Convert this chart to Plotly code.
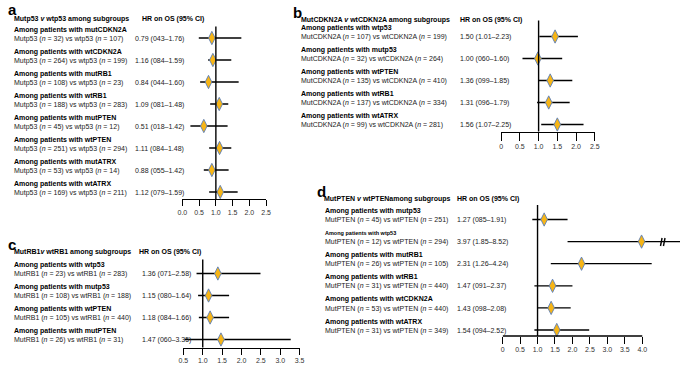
import plotly.graph_objects as go

# ---------------- data ----------------
# Panel a: Mutp53 v wtp53
a_groups = ["mutCDKN2A", "wtCDKN2A", "mutRB1", "wtRB1", "mutPTEN", "wtPTEN", "mutATRX", "wtATRX"]
a_n_mut = [32, 264, 108, 188, 45, 251, 53, 169]
a_n_wt = [107, 199, 23, 283, 12, 294, 14, 211]
a_hr_text = ["0.79 (043–1.76)", "1.16 (084–1.59)", "0.84 (044–1.60)", "1.09 (081–1.48)",
             "0.51 (018–1.42)", "1.11 (084–1.48)", "0.88 (055–1.42)", "1.12 (079–1.59)"]
a_hr = [0.88, 0.91, 0.78, 1.10, 0.64, 1.11, 0.88, 1.13]
a_lo = [0.49, 0.77, 0.53, 0.83, 0.24, 0.80, 0.64, 0.80]
a_hi = [1.76, 1.46, 1.68, 1.37, 1.35, 1.46, 1.38, 1.65]
a_ticks = [0, 0.5, 1.0, 1.5, 2.0, 2.5]
a_ticklabels = ["0.0", "0.5", "1.0", "1.5", "2.0", "2.5"]

# Panel b: MutCDKN2A v wtCDKN2A
b_groups = ["wtp53", "mutp53", "wtPTEN", "wtRB1", "wtATRX"]
b_n_mut = [107, 32, 135, 137, 99]
b_n_wt = [199, 264, 410, 334, 281]
b_hr_text = ["1.50 (1.01–2.23)", "1.00 (060–1.60)", "1.36 (099–1.85)", "1.31 (096–1.79)", "1.56 (1.07–2.25)"]
b_hr = [1.44, 0.98, 1.31, 1.27, 1.50]
b_lo = [1.02, 0.57, 1.01, 0.96, 1.07]
b_hi = [2.05, 1.63, 1.90, 1.83, 2.20]
b_ticks = [0, 0.5, 1.0, 1.5, 2.0, 2.5]
b_ticklabels = ["0", "0.5", "1.0", "1.5", "2.0", "2.5"]

# Panel c: MutRB1 v wtRB1
c_groups = ["wtp53", "mutp53", "wtPTEN", "mutPTEN"]
c_n_mut = [23, 108, 105, 26]
c_n_wt = [283, 188, 440, 31]
c_hr_text = ["1.36 (071–2.58)", "1.15 (080–1.64)", "1.18 (084–1.66)", "1.47 (060–3.35)"]
c_hr = [1.39, 1.15, 1.19, 1.47]
c_lo = [0.84, 0.88, 0.90, 0.53]
c_hi = [2.49, 1.68, 1.68, 3.27]
c_ticks = [0.5, 1.0, 1.5, 2.0, 2.5, 3.0, 3.5]
c_ticklabels = ["0.5", "1.0", "1.5", "2.0", "2.5", "3.0", "3.5"]

# Panel d: MutPTEN v wtPTEN
d_groups = ["mutp53", "wtp53", "mutRB1", "wtRB1", "wtCDKN2A", "wtATRX"]
d_n_mut = [45, 12, 26, 31, 53, 31]
d_n_wt = [251, 294, 105, 440, 440, 349]
d_hr_text = ["1.27 (085–1.91)", "3.97 (1.85–8.52)", "2.31 (1.26–4.24)", "1.47 (091–2.37)",
             "1.43 (098–2.08)", "1.54 (094–2.52)"]
d_hr = [1.19, 3.98, 2.26, 1.43, 1.39, 1.55]
d_lo = [0.85, 1.86, 1.38, 0.91, 1.01, 0.91]
d_hi = [1.86, 8.52, 4.27, 2.00, 1.95, 2.48]
d_ticks = [0, 0.5, 1.0, 1.5, 2.0, 2.5, 3.0, 3.5, 4.0]
d_ticklabels = ["0", "0.5", "1.0", "1.5", "2.0", "2.5", "3.0", "3.5", "4.0"]

# ---------------- layout helpers ----------------
W, H = 685, 367
FONT = "Liberation Sans, Arial, Helvetica, sans-serif"
FILL = "#F7B516"
EDGE = "#5B7FBA"


def px(x):
    return x / W


def py(y):
    return 1 - y / H


panels = [
    dict(letter="a", letter_xy=(1, 10), title="Mutp53 <i>v</i> wtp53 among subgroups", title_xy=(7, 19),
         hrhead_x=136.5, hr_x=130, text_x=7, mut="Mutp53", wt="wtp53",
         groups=a_groups, n_mut=a_n_mut, n_wt=a_n_wt, hr_text=a_hr_text, hr=a_hr, lo=a_lo, hi=a_hi,
         ticks=a_ticks, ticklabels=a_ticklabels, ax_px=(180, 265), ax_ext=265, rng=(0, 2.5),
         row0=38, step=22.0, ytop=26.5, ybot=199, ticklen=6, small=[]),
    dict(letter="b", letter_xy=(290, 12), title="MutCDKN2A <i>v</i> wtCDKN2A among subgroups", title_xy=(298, 20),
         hrhead_x=460, hr_x=460, text_x=298, mut="MutCDKN2A", wt="wtCDKN2A",
         groups=b_groups, n_mut=b_n_mut, n_wt=b_n_wt, hr_text=b_hr_text, hr=b_hr, lo=b_lo, hi=b_hi,
         ticks=b_ticks, ticklabels=b_ticklabels, ax_px=(503.5, 598.5), ax_ext=598.5, rng=(0, 2.5),
         row0=36.5, step=22.0, ytop=20.5, ybot=131.5, ticklen=8, small=[]),
    dict(letter="c", letter_xy=(1, 244), title="MutRB1<i>v</i> wtRB1 among subgroups", title_xy=(7, 252),
         hrhead_x=133.5, hr_x=137.5, text_x=7, mut="MutRB1", wt="wtRB1",
         groups=c_groups, n_mut=c_n_mut, n_wt=c_n_wt, hr_text=c_hr_text, hr=c_hr, lo=c_lo, hi=c_hi,
         ticks=c_ticks, ticklabels=c_ticklabels, ax_px=(181, 299), ax_ext=299, rng=(0.5, 3.5),
         row0=273.5, step=22.0, ytop=259.5, ybot=347.5, ticklen=6, small=[]),
    dict(letter="d", letter_xy=(315, 192), title="MutPTEN <i>v</i> wtPTENamong subgroups", title_xy=(322, 199),
         hrhead_x=456.5, hr_x=456.5, text_x=323, mut="MutPTEN", wt="wtPTEN",
         groups=d_groups, n_mut=d_n_mut, n_wt=d_n_wt, hr_text=d_hr_text, hr=d_hr, lo=d_lo, hi=d_hi,
         ticks=d_ticks, ticklabels=d_ticklabels, ax_px=(505, 646.7), ax_ext=685, rng=(0, 4.0),
         row0=219.5, step=22.1, ytop=205, ybot=336, ticklen=7, small=[1]),
]

fig = go.Figure()
annotations = []
shapes = []

for k, p in enumerate(panels, start=1):
    xa = "x" if k == 1 else f"x{k}"
    ya = "y" if k == 1 else f"y{k}"
    xkey = "xaxis" if k == 1 else f"xaxis{k}"
    ykey = "yaxis" if k == 1 else f"yaxis{k}"
    n = len(p["groups"])
    rows = list(range(n))

    x0px, x1px = p["ax_px"]
    r0, r1 = p["rng"]
    scale = (r1 - r0) / (x1px - x0px)
    rmax = r0 + (p["ax_ext"] - x0px) * scale
    extended = p["ax_ext"] > x1px + 0.5

    fig.update_layout(**{
        xkey: dict(domain=[px(x0px), px(p["ax_ext"])], range=[r0, rmax], anchor=ya,
                   showgrid=False, zeroline=False, showline=not extended, linecolor="black", linewidth=1.4,
                   ticks="outside", ticklen=p["ticklen"], tickwidth=1.4, tickcolor="black",
                   tickvals=p["ticks"], ticktext=p["ticklabels"],
                   tickfont=dict(family=FONT, size=7, color="#333333"), fixedrange=True),
        ykey: dict(domain=[py(p["ybot"]), py(p["ytop"])],
                   range=[(p["ybot"] - p["row0"]) / p["step"], (p["ytop"] - p["row0"]) / p["step"]],
                   anchor=xa, visible=False, showgrid=False, zeroline=False, fixedrange=True),
    })

    if extended:
        shapes.append(dict(type="line", xref=xa, yref=f"{ya} domain", x0=r0, x1=r1, y0=0, y1=0,
                           line=dict(color="black", width=1.4)))

    # reference line at HR = 1
    shapes.append(dict(type="line", xref=xa, yref=f"{ya} domain", x0=1, x1=1, y0=0, y1=1,
                       line=dict(color="black", width=1.4)))

    # confidence intervals
    cx, cy = [], []
    for i in rows:
        cx += [p["lo"][i], p["hi"][i], None]
        cy += [i, i, None]
    fig.add_trace(go.Scatter(x=cx, y=cy, mode="lines", line=dict(color="black", width=1.3),
                             xaxis=xa, yaxis=ya, showlegend=False, hoverinfo="skip"))
    # point estimates
    fig.add_trace(go.Scatter(x=p["hr"], y=rows, mode="markers",
                             marker=dict(symbol="diamond-tall", size=9.5, color=FILL,
                                         line=dict(color=EDGE, width=0.9)),
                             xaxis=xa, yaxis=ya, showlegend=False, cliponaxis=False))

    hdy = -8.5 / p["step"]
    sdy = 0.6 / p["step"]
    for i in rows:
        hsize = 5.5 if i in p["small"] else 7
        annotations.append(dict(text=f"<b>Among patients with {p['groups'][i]}</b>", xref="paper", yref=ya,
                                x=px(p["text_x"]), y=i + hdy, xanchor="left", yanchor="middle", showarrow=False,
                                font=dict(family=FONT, size=hsize, color="black")))
        annotations.append(dict(text=f"{p['mut']} (<i>n</i> = {p['n_mut'][i]}) vs {p['wt']} (<i>n</i> = {p['n_wt'][i]})",
                                xref="paper", yref=ya, x=px(p["text_x"]), y=i + sdy, xanchor="left",
                                yanchor="middle", showarrow=False,
                                font=dict(family=FONT, size=7, color="#222222")))
        annotations.append(dict(text=p["hr_text"][i], xref="paper", yref=ya, x=px(p["hr_x"]), y=i + sdy,
                                xanchor="left", yanchor="middle", showarrow=False,
                                font=dict(family=FONT, size=7, color="#222222")))

    tx, ty = p["title_xy"]
    annotations.append(dict(text=f"<b>{p['title']}</b>", xref="paper", yref="paper", x=px(tx), y=py(ty),
                            xanchor="left", yanchor="middle", showarrow=False,
                            font=dict(family=FONT, size=7, color="black")))
    annotations.append(dict(text="<b>HR on OS (95% CI)</b>", xref="paper", yref="paper", x=px(p["hrhead_x"]),
                            y=py(ty), xanchor="left", yanchor="middle", showarrow=False,
                            font=dict(family=FONT, size=7, color="black")))
    lx, ly = p["letter_xy"]
    annotations.append(dict(text=f"<b>{p['letter']}</b>", xref="paper", yref="paper", x=px(lx), y=py(ly),
                            xanchor="left", yanchor="middle", showarrow=False,
                            font=dict(family=FONT, size=15, color="black")))

# axis break marks on the truncated CI in panel d
for bx in (666.0, 669.0):
    shapes.append(dict(type="line", xref="paper", yref="paper", x0=px(bx - 0.8), x1=px(bx + 0.8),
                       y0=py(246), y1=py(238), line=dict(color="black", width=1.4)))

fig.update_layout(width=W, height=H, autosize=False, margin=dict(l=0, r=0, t=0, b=0, pad=0),
                  paper_bgcolor="white", plot_bgcolor="rgba(0,0,0,0)",
                  annotations=annotations, shapes=shapes, showlegend=False,
                  font=dict(family=FONT, size=7, color="black"))

fig.write_html("out.html", config=dict(displayModeBar=False),
               post_script="document.body.style.margin='0';document.body.style.overflow='hidden';")
